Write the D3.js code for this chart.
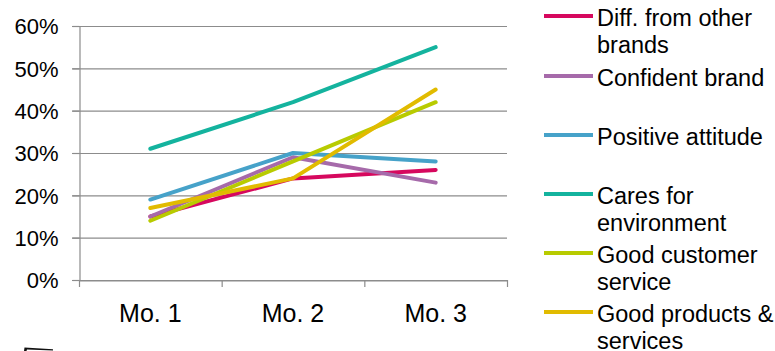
<!DOCTYPE html>
<html><head><meta charset="utf-8">
<script src="https://cdn.jsdelivr.net/npm/d3@7"></script>
<style>
html,body{margin:0;padding:0;background:#fff;}
svg{display:block;font-family:"Liberation Sans",Arial,sans-serif;}
</style></head>
<body><svg id="c" width="775" height="351"></svg>
<script>
const categories = ["Mo. 1","Mo. 2","Mo. 3"];
const seriesNames = [["Diff. from other","brands"],["Confident brand"],["Positive attitude"],["Cares for","environment"],["Good customer","service"],["Good products &","services"]];
const seriesColors = ["#d6085e","#a66aaa","#46a2c9","#14b39e","#b8cb00","#e1bb00"];
const diffOther   = [15, 24, 26];
const confident   = [15, 29, 23];
const positive    = [19, 30, 28];
const caresEnv    = [31, 42, 55];
const goodService = [14, 28, 42];
const goodProducts= [17, 24, 45];
const yTicks = [0,10,20,30,40,50,60];
const series = [diffOther, confident, positive, caresEnv, goodService, goodProducts];

const svg = d3.select("#c");
const pLeft = 79, pRight = 507, pTop = 26, pBottom = 280;
const x = d3.scaleBand().domain(categories).range([pLeft, pRight]).padding(0);
const y = d3.scaleLinear().domain([0,60]).range([pBottom, pTop]);

// gridlines
svg.append("g").selectAll("line").data(yTicks).join("line")
  .attr("x1", pLeft-7).attr("x2", pRight)
  .attr("y1", d=>y(d)+0.5).attr("y2", d=>y(d)+0.5)
  .attr("stroke", "#8c8c8c").attr("stroke-width", 1.2);

// y axis
const yAxis = svg.append("g").attr("transform", `translate(${pLeft+0.5},0)`)
  .call(d3.axisLeft(y).tickValues(yTicks).tickFormat(d=>d+"%").tickSize(7).tickPadding(14));
yAxis.select(".domain").attr("stroke","#8c8c8c").attr("stroke-width",1.2);
yAxis.selectAll(".tick line").attr("stroke","#8c8c8c").attr("stroke-width",1.2);
yAxis.selectAll("text").attr("font-size", 22).attr("fill","#000").attr("font-family","Liberation Sans, Arial, sans-serif").attr("dy","0.36em");

// x axis
const xAxis = svg.append("g").attr("transform", `translate(0,${pBottom+0.5})`)
  .call(d3.axisBottom(x).tickSize(0).tickPadding(24));
xAxis.select(".domain").attr("stroke","#8c8c8c").attr("stroke-width",1.2);
xAxis.selectAll("text").attr("font-size", 25).attr("fill","#000").attr("font-family","Liberation Sans, Arial, sans-serif");
// boundary ticks
const bounds = categories.map(c=>x(c)).concat([pRight]);
svg.append("g").selectAll("line").data(bounds).join("line")
  .attr("x1", d=>d+0.5).attr("x2", d=>d+0.5)
  .attr("y1", pBottom).attr("y2", pBottom+7)
  .attr("stroke","#8c8c8c").attr("stroke-width",1.2);

// lines
const line = d3.line().x((d,i)=>x(categories[i])+x.bandwidth()/2).y(d=>y(d));
svg.append("g").selectAll("path").data(series).join("path")
  .attr("d", line).attr("fill","none")
  .attr("stroke",(d,i)=>seriesColors[i]).attr("stroke-width",4)
  .attr("stroke-linecap","round").attr("stroke-linejoin","round");

// legend
const legY = [16, 76, 135, 194, 253, 312];
const leg = svg.append("g").selectAll("g").data(seriesNames).join("g")
  .attr("transform",(d,i)=>`translate(0,${legY[i]})`);
leg.append("line").attr("x1",544).attr("x2",593).attr("y1",0).attr("y2",0)
  .attr("stroke",(d,i)=>seriesColors[i]).attr("stroke-width",4);
leg.each(function(d){
  const t = d3.select(this).append("text").attr("x",597).attr("y",10)
    .attr("font-size",23.5).attr("fill","#000");
  d.forEach((s,j)=>t.append("tspan").attr("x",597).attr("dy", j===0?0:26.7).text(s));
});

// small artifact at bottom-left
svg.append("path").attr("d","M24,351 L24.5,347.5 L53,349.2 L53,350.4 L27,349.6 L26.5,351 Z").attr("fill","#111");
</script></body></html>
